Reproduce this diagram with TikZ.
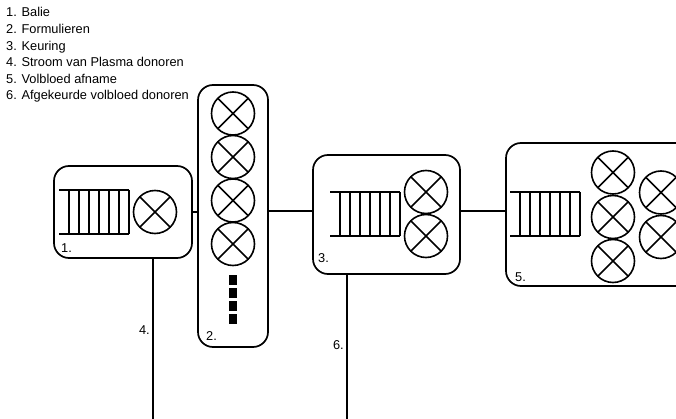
\documentclass[tikz,border=0pt]{standalone}
\usepackage{fontspec}
\setmainfont{Liberation Sans}
\begin{document}
\begin{tikzpicture}[x=1pt,y=-1pt,
  every node/.style={font=\fontsize{12.8}{16.6}\selectfont, inner sep=0pt},
  box/.style={draw, line width=1.7pt, rounded corners=15pt, inner sep=0pt},
  wire/.style={line width=1.7pt},
  xcirc/.style={circle, draw, line width=1.6pt, minimum size=43pt, inner sep=0pt,
    path picture={\draw[line width=1.6pt] (path picture bounding box.north west) -- (path picture bounding box.south east)
      (path picture bounding box.north east) -- (path picture bounding box.south west);}},
  lbl/.style={anchor=west},
  blk/.style={fill=black, minimum width=8pt, minimum height=10pt, inner sep=0pt}
]
\path[use as bounding box] (0,0) rectangle (676,419);
\begin{scope}
\clip (0,0) rectangle (676,419);
% legend
\node[anchor=north west, align=left] (legend) at (6,7.5) {1. Balie\\2. Formulieren\\3. Keuring\\4. Stroom van Plasma donoren\\5. Volbloed afname\\6. Afgekeurde volbloed donoren};
% boxes
\node[box, minimum width=138pt, minimum height=92pt] (b1) at (123,212) {};
\node[box, minimum width=70pt, minimum height=262pt] (b2) at (233,216) {};
\node[box, minimum width=147pt, minimum height=119pt] (b3) at (386.5,214.5) {};
\node[box, minimum width=204pt, minimum height=143pt] (b5) at (608,214.5) {};
% ladders
\foreach \lx/\ly in {59/190, 330/192, 510/192}{
  \draw[line width=1.6pt] (\lx,\ly) -- ++(70,0) (\lx,\ly+44) -- ++(70,0);
  \foreach \k in {1,...,7}{ \draw[line width=1.6pt] (\lx+10*\k,\ly) -- ++(0,44); }
}
% circles
\node[xcirc] (c1) at (155,212) {};
\node[xcirc] (c2a) at (233,113.5) {};
\node[xcirc] (c2b) at (233,157) {};
\node[xcirc] (c2c) at (233,200.5) {};
\node[xcirc] (c2d) at (233,244) {};
\node[xcirc] (c3a) at (426,192) {};
\node[xcirc] (c3b) at (426,236) {};
\node[xcirc] (c5a) at (613,172.5) {};
\node[xcirc] (c5b) at (613,217) {};
\node[xcirc] (c5c) at (613,261) {};
\node[xcirc] (c5d) at (661,192.5) {};
\node[xcirc] (c5e) at (661,237) {};
% black squares
\node[blk] (s1) at (233,280) {};
\node[blk] (s2) at (233,293) {};
\node[blk] (s3) at (233,306) {};
\node[blk] (s4) at (233,319) {};
% labels
\node[lbl] (l1) at (61,248) {1.};
\node[lbl] (l2) at (206,336) {2.};
\node[lbl] (l3) at (318,258) {3.};
\node[lbl] (l5) at (515,277) {5.};
% connectors
\coordinate (row) at (0,211);
\draw[wire] (b1.east) -- (b2.west |- b1.east);
\draw[wire] (b2.east |- row) -- (b3.west |- row);
\draw[wire] (b3.east |- row) -- (b5.west |- row);
\coordinate (e4) at (153,420);
\coordinate (e6) at (347,420);
\draw[wire] (b1.south -| e4) -- (e4);
\draw[wire] (b3.south -| e6) -- (e6);
\node[anchor=east] (l4) at (150,330) {4.};
\node[anchor=east] (l6) at (344,345) {6.};
\end{scope}
\end{tikzpicture}
\end{document}
